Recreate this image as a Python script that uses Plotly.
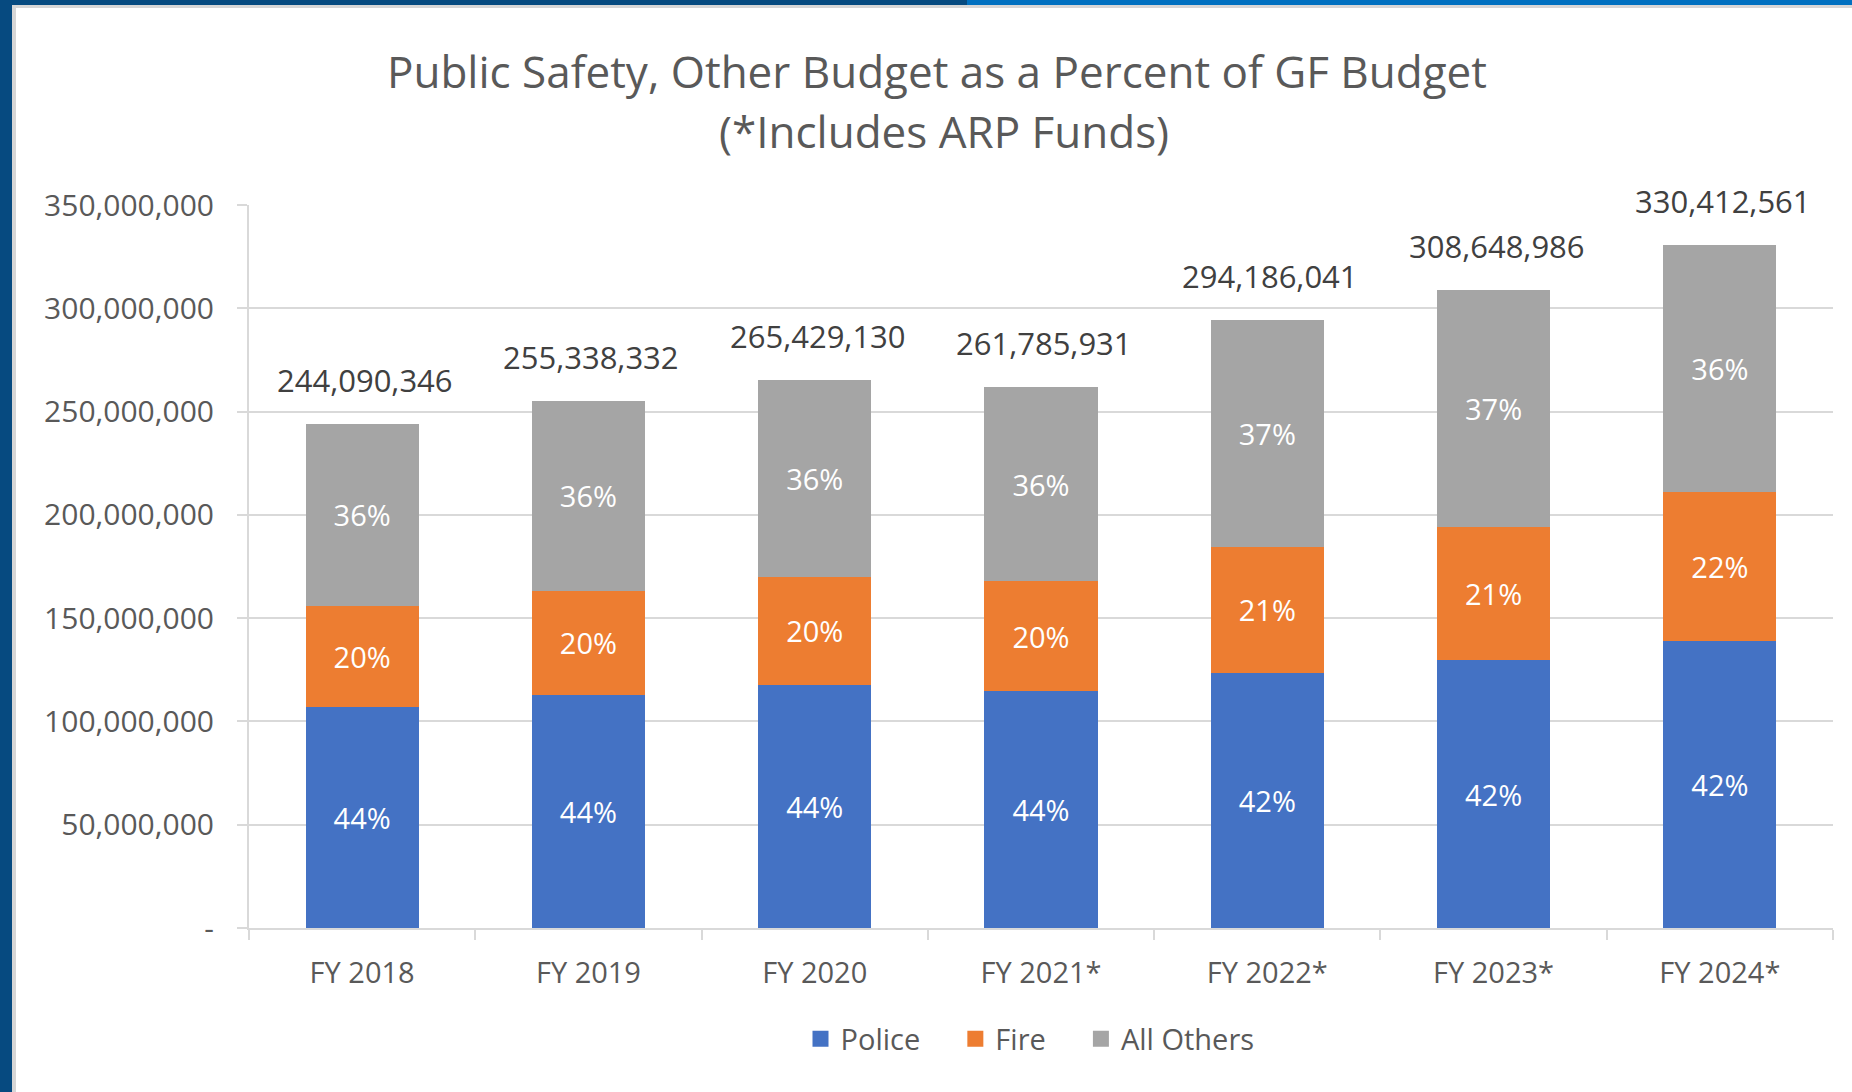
import plotly.graph_objects as go

# General Fund budget by fiscal year, split into Police, Fire and everything else
years = ["FY 2018", "FY 2019", "FY 2020", "FY 2021*", "FY 2022*", "FY 2023*", "FY 2024*"]
police = [107050000, 113000000, 117600000, 114800000, 123500000, 129500000, 138700000]
fire = [49000000, 50300000, 52500000, 53100000, 61000000, 64500000, 72500000]
others = [88040346, 92038332, 95329130, 93885931, 109686041, 114648986, 119212561]

y_ticks = [0, 50000000, 100000000, 150000000, 200000000, 250000000, 300000000, 350000000]
y_tick_text = ["-", "50,000,000", "100,000,000", "150,000,000", "200,000,000",
               "250,000,000", "300,000,000", "350,000,000"]

totals = [p + f + o for p, f, o in zip(police, fire, others)]

W, H = 1852, 1092
ML, MR, MT, MB = 249, 19, 205, 164
PW, PH = W - ML - MR, H - MT - MB

FONT = "Open Sans"
GREY_TXT = "#595959"


def px(x):
    return (x - ML) / PW


def py(y):
    return (H - MB - y) / PH


def pct_labels(part):
    return [f"{v / t * 100:.0f}%" for v, t in zip(part, totals)]


series = [("Police", police, "#4472C4"),
          ("Fire", fire, "#ED7D31"),
          ("All Others", others, "#A5A5A5")]

fig = go.Figure()
for name, vals, color in series:
    fig.add_trace(go.Bar(
        x=years, y=vals, name=name, showlegend=False,
        marker=dict(color=color, line=dict(width=0)),
        text=pct_labels(vals), textposition="inside", insidetextanchor="middle",
        textangle=0, textfont=dict(family=FONT, size=29, color="white"),
        hoverinfo="skip",
    ))

# Legend keys drawn as larger square swatches, spaced apart
for name, _, color in series:
    fig.add_trace(go.Scatter(
        x=[None], y=[None], mode="markers", name=name + "&nbsp;" * 4,
        marker=dict(symbol="square", size=19, color=color),
    ))

# Total budget above each stacked column
for yr, t in zip(years, totals):
    fig.add_annotation(x=yr, y=t, text=f"{t:,}", showarrow=False,
                       yanchor="middle", yshift=44, xshift=3,
                       font=dict(family=FONT, size=31, color="#404040"))

# Two-line chart title
fig.add_annotation(x=px(937), y=py(71), xref="paper", yref="paper",
                   text="Public Safety, Other Budget as a Percent of GF Budget",
                   showarrow=False, xanchor="center", yanchor="middle",
                   font=dict(family=FONT, size=44, color=GREY_TXT))
fig.add_annotation(x=px(944), y=py(131), xref="paper", yref="paper",
                   text="(*Includes ARP Funds)",
                   showarrow=False, xanchor="center", yanchor="middle",
                   font=dict(family=FONT, size=44, color=GREY_TXT))

# Slide frame: navy bar on the left, navy/blue strip on top
shapes = [
    dict(x0=px(0), x1=px(12), y0=py(0), y1=py(H), color="#064a80"),
    dict(x0=px(12), x1=px(16), y0=py(0), y1=py(H), color="#d6d6d6"),
    dict(x0=px(0), x1=px(967), y0=py(0), y1=py(5), color="#064a80"),
    dict(x0=px(967), x1=px(W), y0=py(0), y1=py(5), color="#0070c0"),
    dict(x0=px(12), x1=px(W), y0=py(5), y1=py(8), color="#d6d6d6"),
]
for s in shapes:
    fig.add_shape(type="rect", xref="paper", yref="paper",
                  x0=s["x0"], x1=s["x1"], y0=s["y0"], y1=s["y1"],
                  fillcolor=s["color"], line=dict(width=0), layer="above")

fig.update_layout(
    width=W, height=H,
    margin=dict(l=ML, r=MR, t=MT, b=MB),
    barmode="stack", bargap=0.5,
    paper_bgcolor="white", plot_bgcolor="white",
    font=dict(family=FONT, color=GREY_TXT),
    showlegend=True,
    legend=dict(orientation="h", xanchor="center", yanchor="middle",
                x=px(1045), y=py(1039), traceorder="normal",
                itemwidth=30,
                font=dict(family=FONT, size=29, color=GREY_TXT),
                itemclick=False, itemdoubleclick=False),
    xaxis=dict(showline=True, linecolor="#d9d9d9", linewidth=2,
               ticks="outside", tickson="boundaries", ticklen=10,
               tickcolor="#d9d9d9", tickwidth=2,
               tickfont=dict(family=FONT, size=29, color=GREY_TXT),
               ticklabelstandoff=18),
    yaxis=dict(range=[0, 350000000], tickvals=y_ticks, ticktext=y_tick_text,
               showgrid=True, gridcolor="#d9d9d9", gridwidth=2,
               showline=True, linecolor="#d9d9d9", linewidth=2,
               ticks="outside", ticklen=10, tickcolor="#d9d9d9", tickwidth=2,
               tickfont=dict(family=FONT, size=30, color=GREY_TXT),
               ticklabelstandoff=17, zeroline=False),
)

fig.write_html("out.html")
